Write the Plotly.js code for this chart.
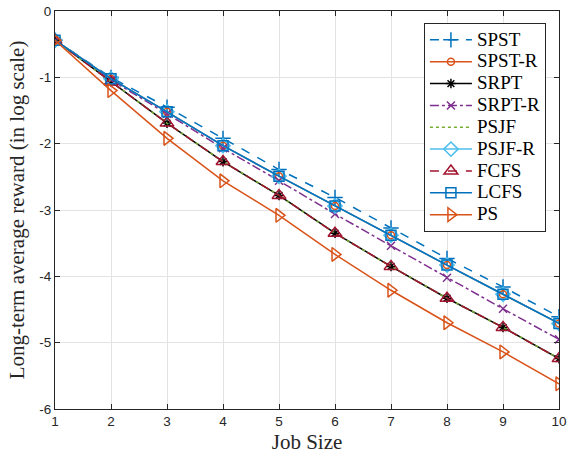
<!DOCTYPE html>
<html>
<head>
<meta charset="utf-8">
<script src="https://cdn.plot.ly/plotly-3.0.1.min.js"></script>
<style>html,body{margin:0;padding:0;background:#fff;}#chart{width:568px;height:461px;}</style>
</head>
<body>
<div id="chart"></div>
<script>
const jobSize = [1, 2, 3, 4, 5, 6, 7, 8, 9, 10];
const spst   = [-0.44, -1.00, -1.45, -1.92, -2.39, -2.81, -3.27, -3.73, -4.16, -4.61];
const spstR  = [-0.44, -1.02, -1.52, -2.03, -2.49, -2.94, -3.38, -3.83, -4.27, -4.71];
const srpt   = [-0.44, -1.07, -1.69, -2.27, -2.78, -3.35, -3.85, -4.33, -4.77, -5.24];
const srptR  = [-0.44, -1.04, -1.55, -2.07, -2.56, -3.06, -3.54, -4.02, -4.49, -4.95];
const psjf   = [-0.44, -1.07, -1.69, -2.27, -2.78, -3.35, -3.85, -4.33, -4.77, -5.24];
const psjfR  = [-0.44, -1.02, -1.52, -2.03, -2.49, -2.94, -3.38, -3.83, -4.27, -4.71];
const fcfs   = [-0.44, -1.07, -1.69, -2.27, -2.78, -3.35, -3.85, -4.33, -4.77, -5.24];
const lcfs   = [-0.44, -1.02, -1.52, -2.03, -2.49, -2.94, -3.38, -3.83, -4.27, -4.71];
const ps     = [-0.44, -1.20, -1.92, -2.56, -3.08, -3.67, -4.21, -4.70, -5.14, -5.62];
const seriesNames = ['SPST', 'SPST-R', 'SRPT', 'SRPT-R', 'PSJF', 'PSJF-R', 'FCFS', 'LCFS', 'PS'];
const xTicks = [1, 2, 3, 4, 5, 6, 7, 8, 9, 10];
const yTicks = [0, -1, -2, -3, -4, -5, -6];

const SERIF = "'Liberation Serif', 'Times New Roman', serif";
const SANS = "'Liberation Sans', Arial, sans-serif";

function tr(i, y, color, dash, symbol, size) {
  const t = {x: jobSize, y: y, name: '<span style="font-size:19px">' + seriesNames[i] + '</span>', type: 'scatter',
    mode: symbol ? 'lines+markers' : 'lines',
    line: {color: color, width: 1.5, dash: dash}};
  if (symbol) t.marker = {symbol: symbol, size: size, color: color, line: {color: color, width: 1.5}};
  return t;
}
const data = [
  tr(0, spst, '#0072BD', 'dash', 'cross-thin-open', 11),
  tr(1, spstR, '#D95319', 'solid', 'circle-open', 7),
  tr(2, srpt, '#000000', 'solid', 'asterisk-open', 8),
  tr(3, srptR, '#7E2F8E', 'dashdot', 'x-thin-open', 8),
  tr(4, psjf, '#77AC30', 'dot', null, 0),
  tr(5, psjfR, '#4DBEEE', 'solid', 'diamond-open', 11),
  tr(6, fcfs, '#A2142F', 'dash', 'triangle-up-open', 12),
  tr(7, lcfs, '#0072BD', 'solid', 'square-open', 10),
  tr(8, ps, '#D95319', 'solid', 'triangle-right-open', 12)
];
const axisCommon = {
  showline: true, mirror: 'ticks', linecolor: '#262626', linewidth: 1,
  ticks: 'inside', ticklen: 5, tickcolor: '#262626',
  showgrid: true, gridcolor: '#e3e3e3', gridwidth: 1, zeroline: false,
  tickfont: {family: SANS, size: 13.5, color: '#262626'}
};
const layout = {
  width: 568, height: 461,
  margin: {l: 55, r: 9, t: 11, b: 52},
  paper_bgcolor: '#ffffff', plot_bgcolor: '#ffffff',
  showlegend: true,
  xaxis: Object.assign({}, axisCommon, {
    range: [1, 10], tickvals: xTicks, ticktext: xTicks.map(String),
    title: {text: 'Job Size', font: {family: SERIF, size: 21, color: '#262626'}, standoff: 6}
  }),
  yaxis: Object.assign({}, axisCommon, {
    range: [-6, 0], tickvals: yTicks, ticktext: yTicks.map(String),
    title: {text: 'Long-term average reward (in log scale)', font: {family: SERIF, size: 21, color: '#262626'}, standoff: 8}
  }),
  legend: {
    x: 0.732, y: 0.97, xanchor: 'left', yanchor: 'top',
    bgcolor: '#ffffff', bordercolor: '#262626', borderwidth: 1,
    font: {family: SERIF, size: 14.5, color: '#000000'},
    tracegroupgap: 0, itemwidth: 42
  }
};
Plotly.newPlot('chart', data, layout, {displayModeBar: false, staticPlot: true});
</script>
</body>
</html>
